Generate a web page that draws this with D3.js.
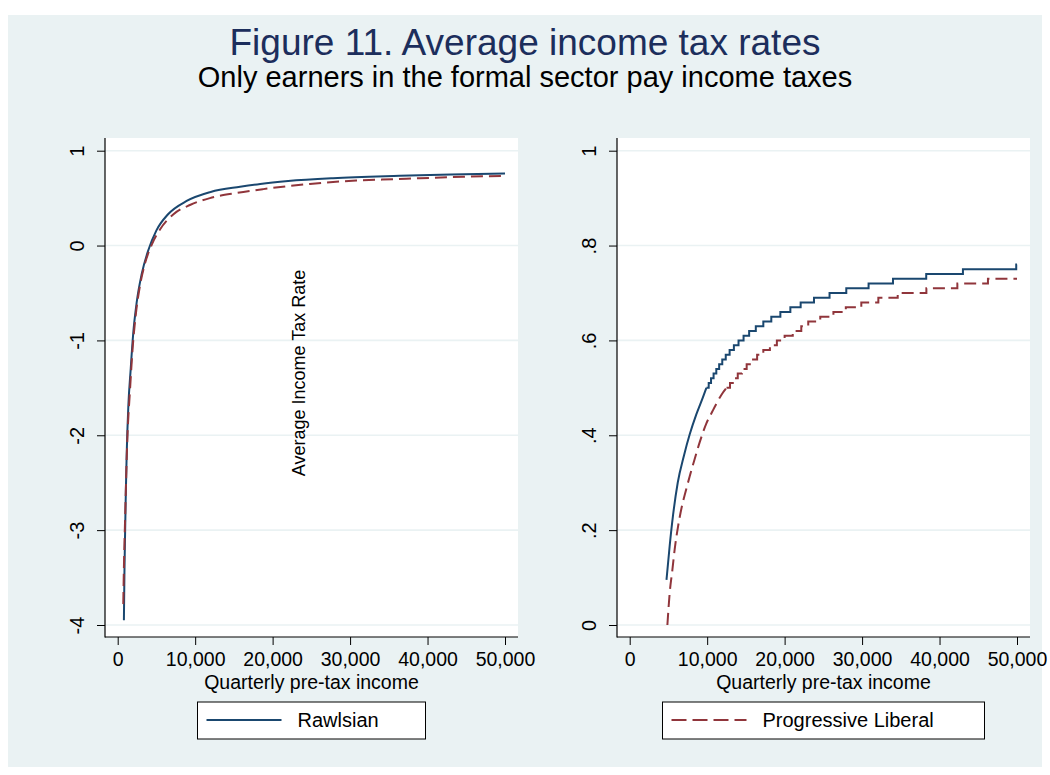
<!DOCTYPE html>
<html>
<head>
<meta charset="utf-8">
<script src="https://cdn.jsdelivr.net/npm/d3@7"></script>
<style>
  body { margin: 0; background: #fff; }
  svg text { font-family: "Liberation Sans", Arial, Helvetica, sans-serif; }
</style>
</head>
<body>
<div id="chart"></div>
<script>
const WIDTH = 1050;
const HEIGHT = 775;

const title = "Figure 11. Average income tax rates";
const subtitle = "Only earners in the formal sector pay income taxes";
const xTitle = "Quarterly pre-tax income";
const yTitle = "Average Income Tax Rate";
const seriesNames = ["Rawlsian", "Progressive Liberal"];

const xTicks = [0, 10000, 20000, 30000, 40000, 50000];
const xTickLabels = ["0", "10,000", "20,000", "30,000", "40,000", "50,000"];
const leftYTicks = [-4, -3, -2, -1, 0, 1];
const leftYTickLabels = ["-4", "-3", "-2", "-1", "0", "1"];
const rightYTicks = [0, 0.2, 0.4, 0.6, 0.8, 1];
const rightYTickLabels = ["0", ".2", ".4", ".6", ".8", "1"];

// left panel: [income, average rate]
const rawlsianAll = [
    [800, -3.95], [870, -3.45], [950, -3.05], [1050, -2.6], [1160, -2.2], [1370, -1.7],
    [1680, -1.3], [2000, -0.93], [2450, -0.6], [3100, -0.3], [3950, -0.05], [5000, 0.16],
    [6500, 0.33], [8900, 0.47], [12000, 0.565], [15800, 0.62], [18400, 0.65], [22000, 0.68],
    [27800, 0.71], [36400, 0.735], [43000, 0.75], [50000, 0.76]
];
const liberalAll = [
    [720, -3.78], [800, -3.4], [940, -2.93], [1240, -2.05], [1590, -1.52], [1940, -1.07],
    [2360, -0.71], [2880, -0.42], [3520, -0.19], [4400, 0.01], [5460, 0.17], [7200, 0.33],
    [9400, 0.43], [11900, 0.50], [15400, 0.555], [18800, 0.595], [21800, 0.625], [24800, 0.65],
    [27800, 0.67], [30800, 0.685], [35800, 0.70], [39000, 0.71], [44600, 0.725], [50000, 0.735]
];

// right panel: smooth low part, then the rate moves in steps of .01
const rawlsianFormal = [
    [4750, 0.095], [5150, 0.165], [5600, 0.232], [6200, 0.30], [7000, 0.357],
    [7750, 0.402], [8600, 0.444], [9450, 0.48], [9900, 0.50]
];
const rawlsianFormalSteps = [
    [9900, 0.50], [10200, 0.51], [10500, 0.52], [10830, 0.53], [11180, 0.54], [11550, 0.55],
    [11950, 0.56], [12400, 0.57], [12900, 0.58], [13450, 0.59], [14050, 0.60], [14700, 0.61],
    [15420, 0.62], [16280, 0.63], [17250, 0.64], [18280, 0.65], [19450, 0.66], [20740, 0.67],
    [22070, 0.68], [23790, 0.69], [25800, 0.70], [27960, 0.71], [30840, 0.72], [33990, 0.73],
    [38280, 0.74], [43020, 0.75], [49900, 0.76], [50000, 0.76]
];
const liberalFormal = [
    [4865, 0.0], [5160, 0.067], [5510, 0.116], [5810, 0.160], [6245, 0.208], [6670, 0.245],
    [7230, 0.282], [7740, 0.313], [8390, 0.350], [9030, 0.385], [9900, 0.425], [10760, 0.453],
    [11830, 0.485], [12500, 0.50]
];
const liberalFormalSteps = [
    [12500, 0.50], [12950, 0.51], [13450, 0.52], [13950, 0.53], [14500, 0.54], [15100, 0.55],
    [15750, 0.56], [16450, 0.57], [17250, 0.58], [18100, 0.59], [19000, 0.60], [20000, 0.61],
    [21050, 0.62], [22150, 0.63], [23050, 0.64], [24600, 0.65], [26300, 0.66], [27900, 0.67],
    [29900, 0.68], [32100, 0.69], [34600, 0.70], [38300, 0.71], [42300, 0.72], [46250, 0.73],
    [50000, 0.73]
];

const BG = "#EAF2F3";
const NAVY = "#1A476F";
const MAROON = "#90353B";
const PLOT_TOP = 138;
const PLOT_BOTTOM = 637;

const svg = d3.select("#chart").append("svg")
    .attr("width", WIDTH)
    .attr("height", HEIGHT);

svg.append("rect")
    .attr("x", 0).attr("y", 0).attr("width", WIDTH).attr("height", HEIGHT)
    .attr("fill", "#fff");
svg.append("rect")
    .attr("x", 8).attr("y", 15).attr("width", 1034).attr("height", 752)
    .attr("fill", BG);

svg.append("text")
    .attr("x", 525).attr("y", 55)
    .attr("text-anchor", "middle")
    .style("font-size", "37px")
    .attr("fill", "#1C2E5C")
    .text(title);

svg.append("text")
    .attr("x", 525).attr("y", 87)
    .attr("text-anchor", "middle")
    .style("font-size", "29px")
    .attr("fill", "#000")
    .text(subtitle);

function drawPanel(p) {
    const g = svg.append("g");

    g.append("rect")
        .attr("x", p.left).attr("y", PLOT_TOP)
        .attr("width", p.right - p.left).attr("height", PLOT_BOTTOM - PLOT_TOP)
        .attr("fill", "#fff");

    const x = d3.scaleLinear().domain([0, 50000]).range([p.left + 12.7, p.right - 13]);
    const y = d3.scaleLinear().domain(p.yDomain).range([625, 150.7]);

    g.selectAll(".grid")
        .data(p.yTicks)
        .join("line")
        .attr("class", "grid")
        .attr("x1", p.left).attr("x2", p.right)
        .attr("y1", d => y(d)).attr("y2", d => y(d))
        .attr("stroke", BG)
        .attr("stroke-width", 1.6);

    // y axis, labels turned like Stata does
    const yAxis = g.append("g")
        .attr("transform", "translate(" + p.left + ",0)")
        .style("color", "#000")
        .call(d3.axisLeft(y)
            .tickValues(p.yTicks)
            .tickFormat((d, i) => p.yLabels[i])
            .tickSize(8));
    yAxis.select(".domain").remove();
    yAxis.selectAll("text")
        .attr("x", 0).attr("dy", null)
        .attr("text-anchor", "middle")
        .attr("transform", "translate(-21,0) rotate(-90)")
        .style("font-size", "20px")
        .style("font-family", "\"Liberation Sans\", Arial, sans-serif");

    const xAxis = g.append("g")
        .attr("transform", "translate(0," + PLOT_BOTTOM + ")")
        .style("color", "#000")
        .call(d3.axisBottom(x)
            .tickValues(xTicks)
            .tickFormat((d, i) => xTickLabels[i])
            .tickSize(8)
            .tickPadding(7));
    xAxis.select(".domain").remove();
    xAxis.selectAll("text")
        .style("font-size", "19.5px")
        .style("font-family", "\"Liberation Sans\", Arial, sans-serif");

    g.append("line")
        .attr("x1", p.left).attr("x2", p.left)
        .attr("y1", PLOT_TOP).attr("y2", PLOT_BOTTOM + 0.5)
        .attr("stroke", "#000").attr("stroke-width", 1.2);
    g.append("line")
        .attr("x1", p.left).attr("x2", p.right)
        .attr("y1", PLOT_BOTTOM).attr("y2", PLOT_BOTTOM)
        .attr("stroke", "#000").attr("stroke-width", 1.2);

    g.append("text")
        .attr("x", (p.left + p.right) / 2).attr("y", 689)
        .attr("text-anchor", "middle")
        .style("font-size", "19.5px")
        .text(xTitle);

    const smooth = d3.line()
        .x(d => x(d[0])).y(d => y(d[1]))
        .curve(d3.curveMonotoneX);
    const stepped = d3.line()
        .x(d => x(d[0])).y(d => y(d[1]))
        .curve(d3.curveStepAfter);

    p.series.forEach(s => {
        g.append("path")
            .datum(s.data)
            .attr("d", s.steps ? stepped : smooth)
            .attr("fill", "none")
            .attr("stroke", s.color)
            .attr("stroke-width", 2)
            .attr("stroke-dasharray", s.dash || null);
    });

    // legend box under the panel
    const lg = p.legend;
    const cx = (p.left + p.right) / 2;
    g.append("rect")
        .attr("x", cx - lg.width / 2).attr("y", 702)
        .attr("width", lg.width).attr("height", 37)
        .attr("fill", "#fff")
        .attr("stroke", "#000").attr("stroke-width", 1);
    g.append("line")
        .attr("x1", cx - lg.width / 2 + 9).attr("x2", cx - lg.width / 2 + 84)
        .attr("y1", 720).attr("y2", 720)
        .attr("stroke", lg.color).attr("stroke-width", 2)
        .attr("stroke-dasharray", lg.dash || null);
    g.append("text")
        .attr("x", cx - lg.width / 2 + 100).attr("y", 727)
        .style("font-size", "20px")
        .text(lg.label);
}

drawPanel({
    left: 105, right: 518,
    yDomain: [-4, 1], yTicks: leftYTicks, yLabels: leftYTickLabels,
    series: [
        { data: rawlsianAll, color: NAVY },
        { data: liberalAll, color: MAROON, dash: "12,6" }
    ],
    legend: { width: 228, label: seriesNames[0], color: NAVY }
});

drawPanel({
    left: 617, right: 1030,
    yDomain: [0, 1], yTicks: rightYTicks, yLabels: rightYTickLabels,
    series: [
        { data: rawlsianFormal, color: NAVY },
        { data: rawlsianFormalSteps, color: NAVY, steps: true },
        { data: liberalFormal, color: MAROON, dash: "12,6" },
        { data: liberalFormalSteps, color: MAROON, dash: "12,6", steps: true }
    ],
    legend: { width: 322, label: seriesNames[1], color: MAROON, dash: "15,6" }
});

// the y title sits inside the left panel in the original
svg.append("text")
    .attr("transform", "translate(305,373) rotate(-90)")
    .attr("text-anchor", "middle")
    .style("font-size", "18px")
    .text(yTitle);
</script>
</body>
</html>
